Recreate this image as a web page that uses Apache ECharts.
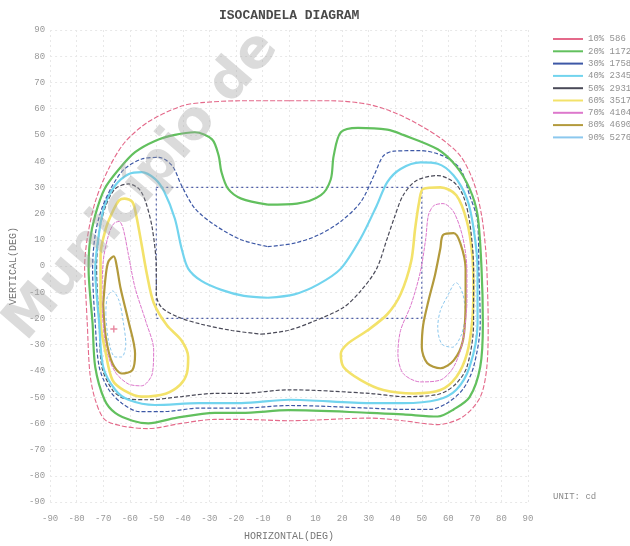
<!DOCTYPE html>
<html><head><meta charset="utf-8">
<script src="https://cdn.jsdelivr.net/npm/echarts@6/dist/echarts.min.js"></script>
<style>html,body{margin:0;padding:0;background:#fff}#c{width:630px;height:546px}</style>
</head><body><div id="c"></div>
<script>
// Axis ticks (degrees)
const axisMin = -90, axisMax = 90, axisStep = 10;
// Legend labels (percent of max, cd)
const levelNames = ['10% 586','20% 1172','30% 1758','40% 2345','50% 2931','60% 3517','70% 4104','80% 4690','90% 5276'];
// Isocandela contours: [horizontal deg, vertical deg]
const c10 = [[0,63],[-18,63],[-33,62.3],[-40.5,61],[-53,55],[-62,47],[-68,37],[-73,24.5],[-76,10.6],[-77,-1],[-76.5,-12],[-76,-22],[-75,-41],[-73,-51],[-69.5,-58.5],[-63,-61],[-53,-62],[-40.5,-60],[-28,-58.5],[-18,-58.5],[0,-59],[30.5,-58],[43,-59],[56,-60.5],[65.5,-57.5],[72,-50],[74.5,-38.5],[75,-22],[74.5,-1],[74,7],[72.5,19.5],[69.5,32],[64.5,42],[56,49.5],[43,57],[30.5,61.5],[15.5,63]];
const c20 = [[-8,23.4],[3,23.8],[12,27],[15.7,33],[16.8,42],[19.5,51],[26,52.7],[37,52],[43,50],[56,44.5],[63,38],[68,29.5],[71,19.5],[72.5,-1],[73,-22],[72,-38.5],[68,-50],[62,-54.7],[56,-57.4],[43,-56.6],[30.5,-56],[0,-55],[-18,-56],[-28,-56],[-43,-58],[-53,-60],[-59,-59],[-65.5,-56],[-69.5,-51],[-73,-38.5],[-74,-22],[-75.5,-1],[-75,9.4],[-73,19.4],[-69.5,29.4],[-64,37],[-58,43.4],[-50.5,47.7],[-43,50],[-35.5,51],[-29,48.3],[-26.5,42],[-25.5,36],[-23,29.5],[-18,25.7]];
const c30 = [[-8,7.4],[2,8.7],[11,11.8],[19.5,17],[27,24.4],[32,34.5],[35.5,42],[39.5,43.8],[49.5,44],[58,42],[64.5,37],[68,27],[71,17],[71.5,-1],[72,-22],[69.5,-38.5],[65.5,-47],[59.5,-52.3],[53,-54.7],[43,-54.7],[30.5,-54.2],[0,-53.2],[-18,-54.2],[-34,-54.2],[-47,-55.5],[-56.5,-55.5],[-63,-52.3],[-68,-47],[-71.5,-38.5],[-73,-22],[-74,-1],[-73,12],[-70.5,22],[-66.5,30.7],[-62,37],[-55.5,40.8],[-49,41.4],[-44,38.2],[-40.5,30.7],[-35.5,22],[-28,15.6],[-18,10]];
const c40 = [[-8,-12.1],[2,-10.8],[11,-7],[19.5,-1],[27,10.6],[33,23],[37,32],[42,37],[49.5,39.5],[56,39],[62,34.5],[67,25.7],[69.5,14.3],[71,-1],[71,-22],[68,-38.5],[63,-47.2],[56,-51],[43,-52.3],[30.5,-52.3],[0,-51],[-18,-52.3],[-34,-52.3],[-50.5,-53],[-60.5,-51],[-65.5,-47.2],[-70,-38.5],[-71.5,-22],[-73,-1],[-71.5,13],[-69.5,23],[-65.5,30.7],[-60.5,35],[-55.5,35.8],[-50.5,33.2],[-47,28.3],[-43,18],[-40.5,6.8],[-38,-1],[-33,-5.7],[-25.5,-9.1],[-17,-11.4]];
const c50 = [[-10.5,-26],[-0.5,-24.6],[9.5,-21],[20.5,-15.8],[27,-9.5],[33,-1],[37,10.6],[39.5,18],[43,27],[48,32.6],[56,34.5],[62,32],[65.5,27],[68,17],[69.5,-1],[69.5,-22],[67,-38.5],[62.5,-45.3],[56,-49],[43,-49.8],[30.5,-48.6],[0,-47.2],[-18,-48.6],[-28,-48.6],[-40.5,-49.8],[-53,-51],[-62,-50.5],[-66.5,-47.3],[-70.5,-38.5],[-71.5,-22],[-72.5,-1],[-71.5,13],[-69,23],[-65.5,29.4],[-60.5,31.3],[-56.5,29.4],[-54,24.4],[-51.5,14.3],[-50,-1],[-50,-10.8],[-48,-15.8],[-41.5,-19.6],[-33,-22.2],[-21.5,-24.6]];
const c60L = [[-71,-8.3],[-71,4.3],[-69,14.3],[-66.5,20.6],[-64,25],[-62,25.7],[-59,24.4],[-57.5,19],[-55.5,8],[-53.5,-3.3],[-51,-14],[-46,-22.6],[-40.5,-28.4],[-38,-34.7],[-38.5,-41],[-41,-45.3],[-46.5,-48.7],[-55.5,-49.8],[-62,-47.5],[-66.5,-43.5],[-69,-33.5],[-71,-21]];
const c60R = [[69.5,-8.3],[69,-21],[67,-33.5],[63,-42.3],[57,-47.3],[47,-48.6],[35.5,-47.3],[27,-43.5],[20.5,-38.5],[19.5,-33.5],[22,-29.7],[29.5,-24.6],[37,-18.4],[42,-10.8],[46,1.8],[47.5,14.3],[49,24.4],[50.5,29.4],[57,30],[63,27],[67,17],[69,4.3]];
const c70L = [[-70.5,-14.6],[-70,1.8],[-68,11.8],[-66,16.2],[-64,17],[-62.5,14.3],[-60.5,4.3],[-58,-8.3],[-54,-21],[-51,-32],[-51.5,-41],[-55.5,-45.7],[-60.5,-45],[-65.5,-40.4],[-69,-31]];
const c70R = [[67,-14.6],[65.5,-28.4],[62,-38.5],[57,-43.5],[49.5,-44.2],[43,-41],[41,-33.5],[42,-24.6],[46,-14.6],[49.5,-2],[51.5,10.6],[52.5,19.4],[54.5,23],[58,23.8],[62,20.6],[65.5,10.6],[67,-2]];
const c80L = [[-70,-14.6],[-69,-3.3],[-68,1.8],[-66,3.7],[-65,0.5],[-63.5,-8.3],[-60.5,-21],[-58,-33.5],[-59,-39.7],[-63,-41],[-66.5,-37.2],[-69,-27.2]];
const c80R = [[66.5,-14.6],[65.5,-28.4],[62,-36],[57,-39],[52,-37],[50,-31],[50.5,-22.6],[52.5,-13.3],[55,-3.3],[57,6.8],[58,11.8],[62,12.5],[64.5,8.7],[66.5,-1]];
const c90L = [[-69,-18.4],[-68.5,-12],[-66.5,-9.5],[-64,-13.3],[-62.5,-21],[-61.5,-29.7],[-63,-34.7],[-65.5,-34.7],[-68,-28.4]];
const c90R = [[66.5,-18.4],[65,-26],[61.5,-31],[57.5,-29.7],[56,-23.4],[57,-17],[60,-10.8],[62,-7],[63,-6.4],[65.5,-10.8]];
// Peak marker and beam rectangle (deg)
const peak = [[-66,-24]];
const beamBox = [[-50,30],[50,30],[50,-20],[-50,-20],[-50,30]];

const styles = [
  {color:'#e4698a', width:1.1, type:[5,2]},
  {color:'#62c05e', width:2.2, type:'solid'},
  {color:'#3d58a6', width:1.2, type:[4,2]},
  {color:'#72d4ee', width:2.2, type:'solid'},
  {color:'#4a4a58', width:1.2, type:[4,2]},
  {color:'#f3e26a', width:2.6, type:'solid'},
  {color:'#dd78cc', width:1, type:[4,1]},
  {color:'#b39a3c', width:2.2, type:'solid'},
  {color:'#8cc8ee', width:1, type:[3,2]}
];
const close = a => a.concat([a[0]]);
const groups = [[c10],[c20],[c30],[c40],[c50],[c60L,c60R],[c70L,c70R],[c80L,c80R],[c90L,c90R]];
const series = [];
groups.forEach((g,i)=>{
  g.forEach(arr=>{
    series.push({type:'line', name:levelNames[i], data:close(arr), smooth:0.3, showSymbol:false, symbol:'none',
      lineStyle:{color:styles[i].color, width:styles[i].width, type:styles[i].type}, itemStyle:{color:styles[i].color}, z:10-i, silent:true});
  });
});
series.push({type:'line', name:'beam', data:beamBox, showSymbol:false, symbol:'none', lineStyle:{color:'#5060a8', width:1.2, type:[2,3]}, z:1, silent:true});
series.push({type:'scatter', name:'peak', data:peak, symbol:'path://M-1,-5 L1,-5 L1,-1 L5,-1 L5,1 L1,1 L1,5 L-1,5 L-1,1 L-5,1 L-5,-1 L-1,-1 Z', symbolSize:7, itemStyle:{color:'#e26a8a'}, z:12, silent:true});

const mono = 'Liberation Mono';
const chart = echarts.init(document.getElementById('c'));
chart.setOption({
  animation:false,
  backgroundColor:'#ffffff',
  title:{text:'ISOCANDELA DIAGRAM', left:214, top:4, textStyle:{fontFamily:mono, fontSize:13, fontWeight:'bold', color:'#4a4a4a'}},
  grid:{left:48, right:102, top:30, bottom:39},
  legend:{data:levelNames, orient:'vertical', left:548, top:29, icon:'rect', itemWidth:30, itemHeight:2, itemGap:2.3,
    textStyle:{fontFamily:mono, fontSize:9, color:'#929292', lineHeight:10}},
  xAxis:{type:'value', min:axisMin, max:axisMax, interval:axisStep,
    name:'HORIZONTAL(DEG)', nameLocation:'middle', nameGap:29, nameTextStyle:{fontFamily:mono, fontSize:10, color:'#777'},
    axisLine:{show:false}, axisTick:{show:false},
    axisLabel:{fontFamily:mono, fontSize:9, color:'#999', margin:12},
    splitLine:{show:true, lineStyle:{color:'#e8e8e8', type:[2,3], width:1}}},
  yAxis:{type:'value', min:axisMin, max:axisMax, interval:axisStep,
    name:'VERTICAL(DEG)', nameLocation:'middle', nameRotate:90, nameGap:26, nameTextStyle:{fontFamily:mono, fontSize:10, color:'#777'},
    axisLine:{show:false}, axisTick:{show:false},
    axisLabel:{fontFamily:mono, fontSize:9, color:'#999', margin:5},
    splitLine:{show:true, lineStyle:{color:'#e8e8e8', type:[2,3], width:1}}},
  graphic:[
    {type:'text', left:553, top:492, style:{text:'UNIT: cd', font:'9px "Liberation Mono"', fill:'#8a8a8a'}, silent:true},
    {type:'text', x:142, y:186, rotation:0.86, z:100, silent:true,
      style:{text:'Município de', font:'bold 54px "DejaVu Sans"', fill:'rgba(160,160,160,0.38)', align:'center', verticalAlign:'middle'}}
  ],
  series:series
});
</script></body></html>
